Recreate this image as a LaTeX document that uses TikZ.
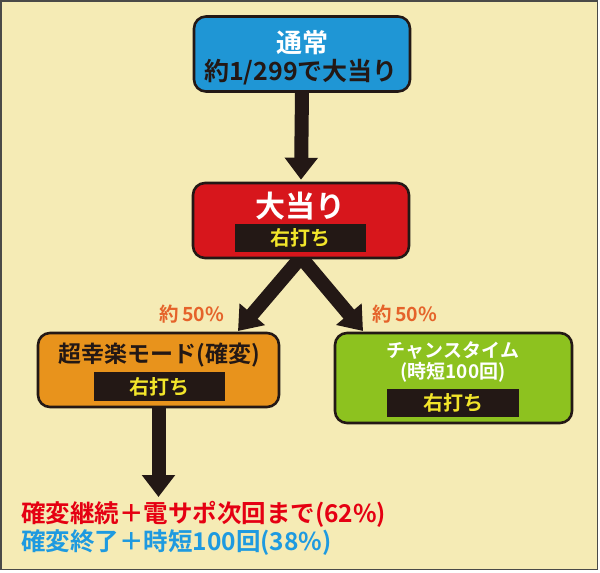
\documentclass[tikz,border=0pt]{standalone}
\usepackage{fontspec}
\setmainfont{Noto Sans CJK JP Bold}
\usetikzlibrary{arrows.meta}
\definecolor{bg}{HTML}{F5EBB5}
\definecolor{frame}{HTML}{4A4A48}
\definecolor{boxblue}{HTML}{1F96D5}
\definecolor{boxred}{HTML}{D7161C}
\definecolor{boxorange}{HTML}{E8931C}
\definecolor{boxgreen}{HTML}{8DC21F}
\definecolor{ink}{HTML}{231815}
\definecolor{pct}{HTML}{E5632A}
\definecolor{tag}{HTML}{F2E52A}
\definecolor{txtred}{HTML}{E50012}
\definecolor{txtblue}{HTML}{1E9AE0}
\tikzset{
  box/.style={draw=ink, line width=2.6pt, rounded corners=12pt, inner sep=0pt},
  bar/.style={fill=ink, inner sep=0pt, minimum width=131pt, minimum height=28pt},
  tagtext/.style={text=tag, font=\fontsize{20}{20}\selectfont, inner sep=0pt},
  bigarrow/.style={draw=ink, line width=14pt, -{Triangle[width=32pt,length=22pt]}},
  lbl/.style={inner sep=0pt, text=pct, font=\fontsize{19.5}{19.5}\selectfont},
  plain/.style={inner sep=0pt},
}
\begin{document}
\begin{tikzpicture}[x=1pt,y=-1pt]
\useasboundingbox (0,0) rectangle (600,573);
\fill[white] (0,0) rectangle (600,573);
\draw[frame, fill=bg, line width=1.5pt] (1,1) rectangle (597.5,569.5);

% normal state
\node[box, fill=boxblue, minimum width=216pt, minimum height=75pt] (top) at (302,54) {};
\node[plain, text=white, font=\fontsize{26}{26}\selectfont] (toptitle) at (302,43) {通常};
\node[plain, text=ink, font=\fontsize{25}{25}\selectfont] (topsub) at (301,72) {約1/299で大当り};

% lower boxes
\node[box, fill=boxorange, minimum width=241pt, minimum height=74pt] (kakuhen) at (158.5,370) {};
\node[plain, text=ink, font=\fontsize{23}{23}\selectfont] (kakuhentitle) at (159,355) {超幸楽モード(確変)};
\node[bar, minimum height=29pt] (kakuhenbar) at (159.5,386.5) {};
\node[tagtext] (kakuhentag) at (kakuhenbar) {右打ち};

\node[box, fill=boxgreen, minimum width=237pt, minimum height=90pt] (chance) at (453.5,378) {};
\node[plain, text=white, font=\fontsize{19}{19}\selectfont] (chancetitle) at (453,351) {チャンスタイム};
\node[plain, text=white, font=\fontsize{19}{19}\selectfont] (chancesub) at (453,372) {(時短100回)};
\node[bar, minimum width=132pt] (chancebar) at (453,403) {};
\node[tagtext] (chancetag) at (chancebar) {右打ち};

% branch arrows (start hidden under the hit box)
\node[box, draw=none, minimum width=216pt, minimum height=75pt] (hitpos) at (301,220.5) {};
\coordinate (lt) at (238,331);
\coordinate (rt) at (363,331);
\draw[bigarrow] ([xshift=5pt,yshift=8pt]hitpos.south) -- (lt);
\draw[bigarrow] ([xshift=-5pt,yshift=8pt]hitpos.south) -- (rt);

% hit box
\node[box, fill=boxred, minimum width=216pt, minimum height=75pt] (hit) at (301,220.5) {};
\node[plain, text=white, font=\fontsize{30}{30}\selectfont] (hittitle) at (300,206) {大当り};
\node[bar] (hitbar) at (300.5,238) {};
\node[tagtext] (hittag) at (hitbar) {右打ち};

% main arrow
\draw[bigarrow] (top.south) -- ([yshift=2pt]hit.north);

% labels
\node[lbl] (pl) at (192,314) {約\,50\%};
\node[lbl] (pr) at (405,314) {約\,50\%};

% result texts
\node[plain, anchor=west, text=txtred, font=\fontsize{24.5}{24.5}\selectfont] (res1) at (21,514) {確変継続＋電サポ次回まで(62\%)};
\node[plain, anchor=west, text=txtblue, font=\fontsize{24.5}{24.5}\selectfont] (res2) at (21,543) {確変終了＋時短100回(38\%)};
\coordinate (downtip) at (kakuhen.south |- 0,497);
\draw[bigarrow] (kakuhen.south) -- (downtip);
\end{tikzpicture}
\end{document}
